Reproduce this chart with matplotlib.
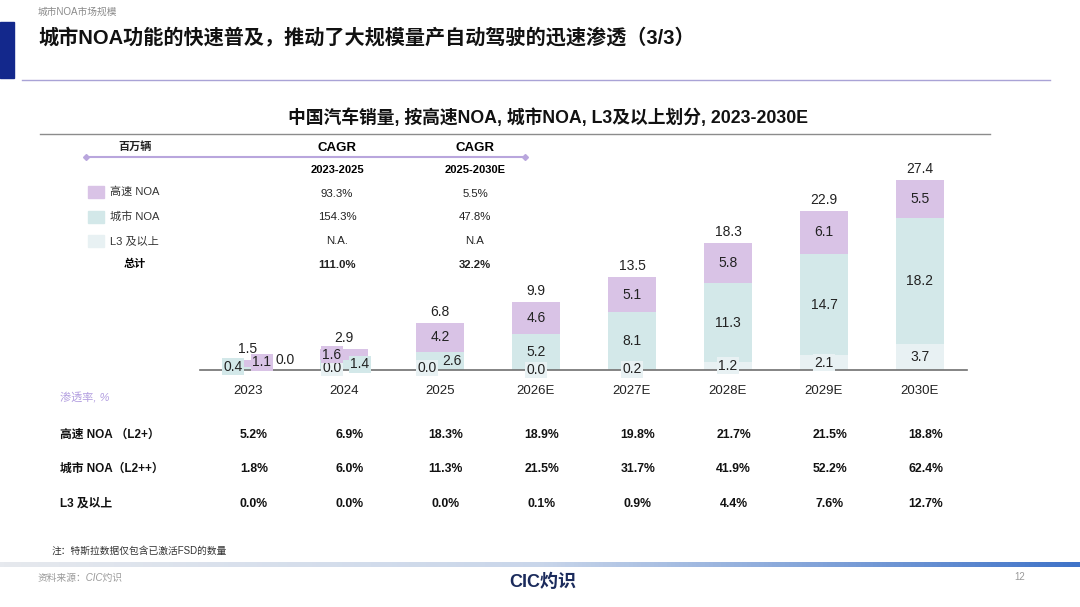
import matplotlib
matplotlib.use("Agg")
import matplotlib.pyplot as plt
import matplotlib.transforms as mtransforms
from matplotlib.patches import Rectangle
from matplotlib.lines import Line2D
from matplotlib.colors import LinearSegmentedColormap
import numpy as np

plt.rcParams['font.family'] = ['Liberation Sans', 'Noto Sans CJK SC', 'DejaVu Sans']

# ---------- data ----------
years = ['2023', '2024', '2025', '2026E', '2027E', '2028E', '2029E', '2030E']
l3 = [0.0, 0.0, 0.0, 0.0, 0.2, 1.2, 2.1, 3.7]
city_noa = [0.4, 1.4, 2.6, 5.2, 8.1, 11.3, 14.7, 18.2]
hw_noa = [1.1, 1.6, 4.2, 4.6, 5.1, 5.8, 6.1, 5.5]
totals = [1.5, 2.9, 6.8, 9.9, 13.5, 18.3, 22.9, 27.4]

legend_names = ['高速 NOA', '城市 NOA', 'L3 及以上']
cagr_23_25 = ['93.3%', '154.3%', 'N.A.', '111.0%']
cagr_25_30 = ['5.5%', '47.8%', 'N.A', '32.2%']

pen_rows = ['高速 NOA （L2+）', '城市 NOA（L2++）', 'L3 及以上']
pen_hw = ['5.2%', '6.9%', '18.3%', '18.9%', '19.8%', '21.7%', '21.5%', '18.8%']
pen_city = ['1.8%', '6.0%', '11.3%', '21.5%', '31.7%', '41.9%', '52.2%', '62.4%']
pen_l3 = ['0.0%', '0.0%', '0.0%', '0.1%', '0.9%', '4.4%', '7.6%', '12.7%']

c_hw = '#D9C3E6'
c_city = '#D3E8E9'
c_l3 = '#E8F1F3'

W, H = 1080, 607
fig = plt.figure(figsize=(W / 100, H / 100), dpi=100)


def fx(px):
    return px / W


def fy(py):
    return 1 - py / H


# ---------- header ----------
fig.text(fx(38), fy(12), '城市NOA市场规模', fontsize=7, color='#8A8A8A', va='center')
fig.patches.append(Rectangle((0, fy(78)), fx(14), fy(22) - fy(78), transform=fig.transFigure,
                             color='#13288C', zorder=5))
fig.text(fx(38), fy(38), '城市NOA功能的快速普及，推动了大规模量产自动驾驶的迅速渗透（3/3）',
         fontsize=14.5, fontweight='bold', color='#111111', va='center')
fig.add_artist(Line2D([fx(22), fx(1050)], [fy(80), fy(80)], color='#A9A3D6', lw=1.0))

fig.text(fx(548), fy(118), '中国汽车销量, 按高速NOA, 城市NOA, L3及以上划分, 2023-2030E',
         fontsize=12.8, fontweight='bold', ha='center', va='center', color='#111111')
fig.add_artist(Line2D([fx(40), fx(990)], [fy(134), fy(134)], color='#8C8C8C', lw=1.0))

# ---------- CAGR block ----------
fig.text(fx(135), fy(147), '百万辆', fontsize=8, fontweight='bold', style='italic',
         ha='center', va='center', color='#222222')
fig.add_artist(Line2D([fx(86), fx(525)], [fy(157), fy(157)], color='#B9A6DD', lw=1.5,
                      marker='D', markersize=3, markevery=[0, 1]))
for xc, top, sub in [(337, 'CAGR', '2023-2025'), (475, 'CAGR', '2025-2030E')]:
    fig.text(fx(xc), fy(148), top, fontsize=9.5, fontweight='bold', ha='center', va='center')
    fig.text(fx(xc), fy(170), sub, fontsize=8, fontweight='bold', ha='center', va='center')

for k, (name, col) in enumerate(zip(legend_names, [c_hw, c_city, c_l3])):
    yy = 192 + k * 24.5
    fig.patches.append(Rectangle((fx(88), fy(yy + 6)), fx(16), fy(yy - 6) - fy(yy + 6),
                                 transform=fig.transFigure, color=col))
    fig.text(fx(110), fy(yy), name, fontsize=8, va='center', color='#333333')
fig.text(fx(135), fy(264), '总计', fontsize=8, fontweight='bold', ha='center', va='center')

for k in range(4):
    yy = 194 + k * 23.5
    wt = 'bold' if k == 3 else 'normal'
    fig.text(fx(337), fy(yy), cagr_23_25[k], fontsize=8.2, fontweight=wt, ha='center', va='center',
             color='#222222')
    fig.text(fx(475), fy(yy), cagr_25_30[k], fontsize=8.2, fontweight=wt, ha='center', va='center',
             color='#222222')

# ---------- bar chart ----------
ax = fig.add_axes([fx(200), fy(370), fx(967) - fx(200), fy(160) - fy(370)])
x = np.arange(len(years))
bw = 0.5
ax.bar(x, l3, bw, color=c_l3, zorder=2)
ax.bar(x, city_noa, bw, bottom=l3, color=c_city, zorder=2)
bottom_hw = np.array(l3) + np.array(city_noa)
ax.bar(x, hw_noa, bw, bottom=bottom_hw, color=c_hw, zorder=2)

ax.set_xlim(-0.5, 7.49)
ax.set_ylim(0, (370 - 160) / 6.93)
for s in ['top', 'right', 'left']:
    ax.spines[s].set_visible(False)
ax.spines['bottom'].set_color('#707070')
ax.spines['bottom'].set_linewidth(1.2)
ax.spines['bottom'].set_zorder(3)
ax.set_yticks([])
ax.set_xticks(x)
ax.set_xticklabels(years, fontsize=9.5, color='#222222')
ax.tick_params(axis='x', length=0, pad=11)

# label offsets (pixels) for the crowded small bars
offsets = {
    (0, 'l3'): (37, 10), (0, 'city'): (-15, 2), (0, 'hw'): (14, 1),
    (1, 'l3'): (-12, 2), (1, 'city'): (16, 1), (1, 'hw'): (-12, 0),
    (2, 'l3'): (-13, 2), (2, 'city'): (12, 0),
}


def seg_label(i, key, val, base, col):
    dx, dy = offsets.get((i, key), (0, 0))
    ax.annotate(f'{val:.1f}', xy=(i, base + val / 2), xytext=(dx, dy), textcoords='offset pixels',
                ha='center', va='center', fontsize=10, color='#222222', zorder=4,
                bbox=dict(boxstyle='square,pad=0.1', fc=col, ec='none'))


for i in range(len(years)):
    seg_label(i, 'l3', l3[i], 0, 'white' if i == 0 else c_l3)
    seg_label(i, 'city', city_noa[i], l3[i], c_city)
    seg_label(i, 'hw', hw_noa[i], bottom_hw[i], c_hw)
    ax.annotate(f'{totals[i]:.1f}', xy=(i, bottom_hw[i] + hw_noa[i]), xytext=(0, 4),
                textcoords='offset pixels', ha='center', va='bottom', fontsize=10, color='#222222')

# ---------- penetration table ----------
fig.text(fx(60), fy(398), '渗透率, %', fontsize=8, style='italic', color='#B39FE0', va='center')
trans = mtransforms.blended_transform_factory(ax.transData, fig.transFigure)
for row, vals, yy in zip(pen_rows, [pen_hw, pen_city, pen_l3], [435, 469, 504]):
    fig.text(fx(60), fy(yy), row, fontsize=8.5, fontweight='bold', va='center', color='#111111')
    for i, v in enumerate(vals):
        fig.text(i + 0.06, fy(yy), v, transform=trans, fontsize=8.8, fontweight='bold',
                 ha='center', va='center', color='#111111')

# ---------- footer ----------
fig.text(fx(52), fy(551), '注：特斯拉数据仅包含已激活FSD的数量', fontsize=7, va='center', color='#333333')
gax = fig.add_axes([0, fy(567), 1, fy(562) - fy(567)])
grad_cmap = LinearSegmentedColormap.from_list('g', ['#E6E9EE', '#C9D6EA', '#3F73C8'])
gax.imshow(np.linspace(0, 1, 256).reshape(1, -1), aspect='auto', cmap=grad_cmap)
gax.axis('off')
fig.text(fx(38), fy(578), '资料来源：CIC灼识', fontsize=7, style='italic', color='#9A9A9A', va='center')
fig.text(fx(543), fy(582), 'CIC灼识', fontsize=13, fontweight='bold', color='#1B2B5C',
         ha='center', va='center')
fig.text(fx(1020), fy(577), '12', fontsize=7, color='#9A9A9A', ha='center', va='center')

fig.savefig('out.png', dpi=100)
